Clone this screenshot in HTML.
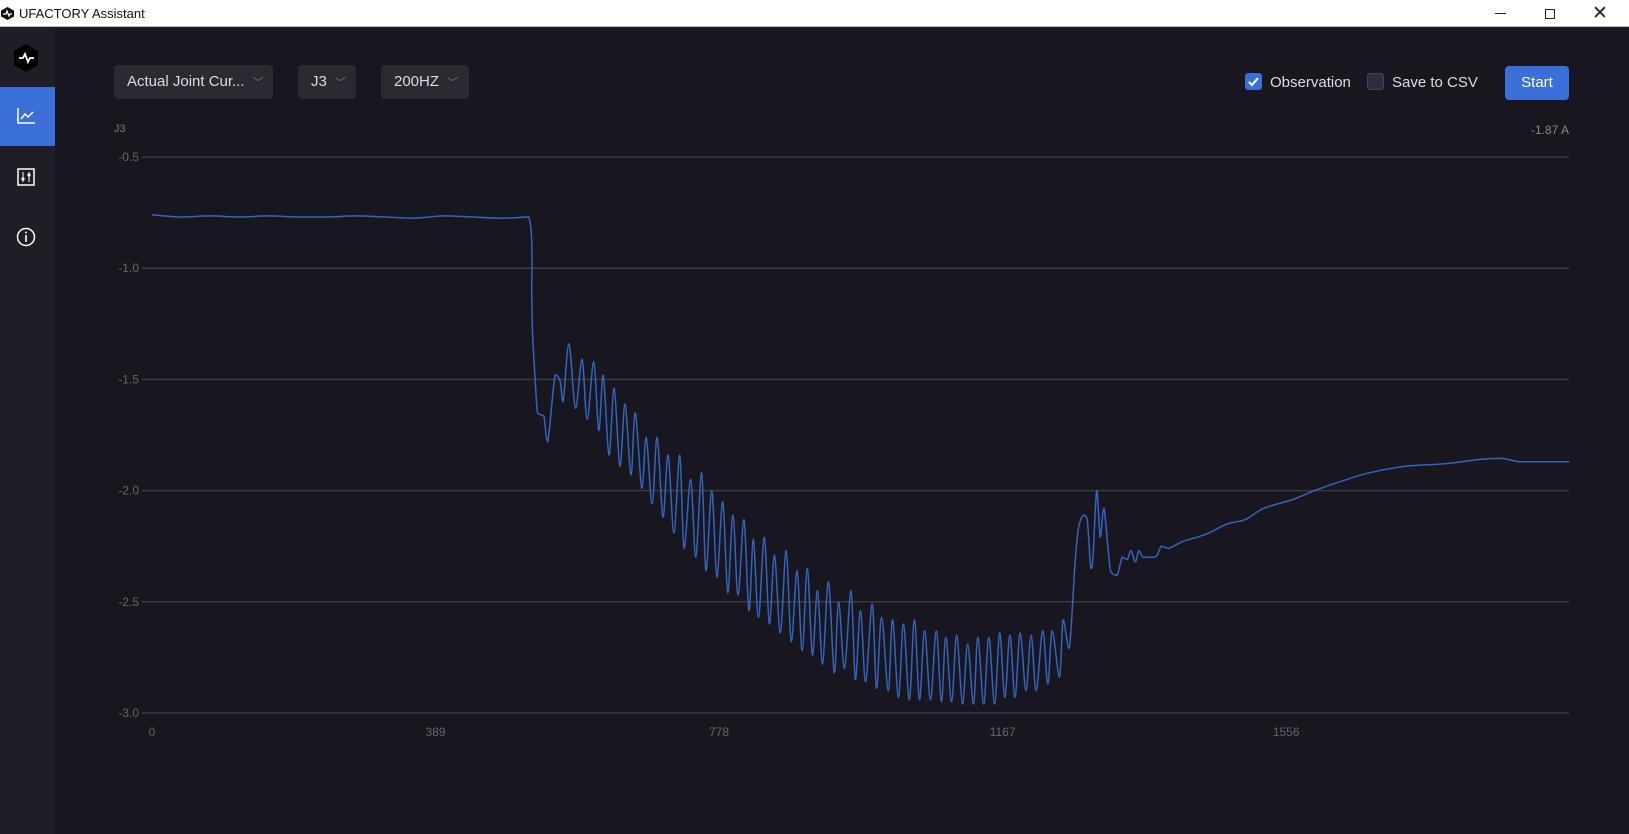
<!DOCTYPE html>
<html><head><meta charset="utf-8"><style>
*{margin:0;padding:0;box-sizing:border-box}
body{width:1629px;height:834px;overflow:hidden;background:#18171f;font-family:"Liberation Sans",sans-serif;position:relative}
.abs{position:absolute}
.titlebar{left:0;top:0;width:1629px;height:27px;background:#fff;border-bottom:1px solid #bbb}
.side{left:0;top:27px;width:55px;height:807px;background:#1f1e27}
.dd{top:65px;height:34px;background:#2a2a33;border-radius:4px;color:#ddd;font-size:15px;line-height:34px;padding-left:13px}
.dd span{color:#777;font-size:11px;margin-left:8px}
.lbl{color:#ddd;font-size:15px}
</style></head><body>
<div class="abs titlebar">
 <svg class="abs" style="left:1px;top:7px" width="13" height="13"><polygon points="6.5,0 13,3.5 13,9.5 6.5,13 0,9.5 0,3.5" fill="#111"/><polyline points="2,7 5,7 6,4 8,9 9,7 11,7" fill="none" stroke="#fff" stroke-width="1.2"/></svg>
 <div class="abs" style="left:19px;top:6px;font-size:13px;color:#111">UFACTORY Assistant</div>
 <div class="abs" style="left:1495px;top:13px;width:11px;height:1px;background:#222"></div>
 <div class="abs" style="left:1545px;top:9px;width:10px;height:10px;border:1px solid #222"></div>
 <div class="abs" style="left:1592px;top:2px;font-size:19px;color:#222">✕</div>
</div>
<div class="abs side"></div>
<svg class="abs" style="left:13px;top:44px" width="26" height="28"><polygon points="13,0 25,7 25,21 13,28 1,21 1,7" fill="#000"/><polyline points="6,14 10,14 12,10 15,18 17,14 21,14" fill="none" stroke="#fff" stroke-width="1.8"/></svg>
<div class="abs" style="left:0;top:87px;width:55px;height:59px;background:#3a6fd8">
 <svg class="abs" style="left:17px;top:21px" width="18" height="16"><polyline points="1,0 1,15 18,15" fill="none" stroke="#fff" stroke-width="1.5"/><polyline points="4,11 8,6 11,9 16,4" fill="none" stroke="#fff" stroke-width="1.5"/></svg>
</div>
<svg class="abs" style="left:17px;top:168px" width="18" height="18"><rect x="1" y="1" width="16" height="16" fill="none" stroke="#fff" stroke-width="1.5"/><line x1="6" y1="4" x2="6" y2="14" stroke="#fff"/><line x1="12" y1="4" x2="12" y2="14" stroke="#fff"/><circle cx="6" cy="11" r="1.6" fill="#fff"/><circle cx="12" cy="7" r="1.6" fill="#fff"/></svg>
<svg class="abs" style="left:16px;top:227px" width="20" height="20"><circle cx="10" cy="10" r="8.5" fill="none" stroke="#fff" stroke-width="1.5"/><line x1="10" y1="8" x2="10" y2="15" stroke="#fff" stroke-width="1.6"/><circle cx="10" cy="5.5" r="1" fill="#fff"/></svg>

<div class="abs dd" style="left:114px;width:159px">Actual Joint Cur...<span>﹀</span></div>
<div class="abs dd" style="left:298px;width:58px">J3<span>﹀</span></div>
<div class="abs dd" style="left:381px;width:88px">200HZ<span>﹀</span></div>

<div class="abs" style="left:1245px;top:73px;width:17px;height:17px;background:#3a6fd8;border-radius:3px"><svg width="17" height="17"><polyline points="4,9 7,12 13,5" fill="none" stroke="#fff" stroke-width="2"/></svg></div>
<div class="abs lbl" style="left:1270px;top:74px">Observation</div>
<div class="abs" style="left:1367px;top:73px;width:17px;height:17px;background:#2e2d38;border:1px solid #2f4a7a;border-radius:3px"></div>
<div class="abs lbl" style="left:1392px;top:74px">Save to CSV</div>
<div class="abs" style="left:1505px;top:66px;width:64px;height:34px;background:#3a6fd8;border-radius:4px;color:#fff;font-size:15px;line-height:34px;text-align:center">Start</div>

<div class="abs" style="left:114px;top:123px;font-size:11px;color:#777">J3</div>
<div class="abs" style="left:1480px;top:123px;width:89px;text-align:right;font-size:12px;color:#888">-1.87 A</div>

<svg id="chart" class="abs" style="left:0;top:0" width="1629" height="834"></svg>
<script>
const yTicks=[-0.5,-1.0,-1.5,-2.0,-2.5,-3.0];
const xTicks=[0,389,778,1167,1556];
const xs=[0,40,80,120,160,200,240,280,320,360,400,440,480,517,521,522,526,529,535,538,543,553,560,564,572,581,590,597,606,613,619,627,634,642,649,657,663,672,678,686,693,701,708,716,724,730,739,746,754,760,768,775,783,790,797,804,812,819,825,832,840,847,854,862,870,877,885,892,899,906,913,920,928,936,942,950,959,965,972,979,988,994,1001,1010,1016,1024,1031,1039,1046,1053,1060,1068,1076,1083,1089,1097,1104,1112,1119,1127,1133,1141,1148,1156,1163,1170,1177,1184,1191,1199,1206,1213,1222,1229,1235,1245,1250,1258,1263,1266,1271,1278,1283,1288,1291,1296,1301,1306,1315,1324,1331,1338,1343,1349,1354,1360,1373,1379,1385,1395,1413,1433,1450,1475,1500,1525,1565,1595,1630,1670,1721,1771,1821,1851,1876,1911,1944];
const ys=[-0.76,-0.77,-0.765,-0.77,-0.765,-0.77,-0.77,-0.765,-0.77,-0.775,-0.765,-0.77,-0.775,-0.77,-1.143,-1.29,-1.52,-1.65,-1.66,-1.67,-1.78,-1.48,-1.51,-1.60,-1.34,-1.63,-1.41,-1.68,-1.42,-1.73,-1.48,-1.84,-1.54,-1.89,-1.61,-1.93,-1.65,-1.99,-1.76,-2.06,-1.76,-2.12,-1.84,-2.19,-1.84,-2.26,-1.95,-2.30,-1.92,-2.36,-2.00,-2.39,-2.05,-2.46,-2.11,-2.47,-2.13,-2.54,-2.22,-2.57,-2.21,-2.60,-2.29,-2.64,-2.27,-2.68,-2.36,-2.72,-2.35,-2.74,-2.45,-2.78,-2.41,-2.82,-2.50,-2.80,-2.45,-2.85,-2.54,-2.86,-2.51,-2.89,-2.57,-2.90,-2.58,-2.93,-2.60,-2.94,-2.58,-2.94,-2.63,-2.94,-2.63,-2.95,-2.66,-2.95,-2.65,-2.96,-2.69,-2.96,-2.66,-2.96,-2.66,-2.96,-2.64,-2.93,-2.65,-2.93,-2.64,-2.90,-2.65,-2.90,-2.63,-2.87,-2.63,-2.84,-2.58,-2.71,-2.51,-2.34,-2.17,-2.11,-2.13,-2.35,-2.30,-2.00,-2.21,-2.08,-2.36,-2.38,-2.30,-2.31,-2.27,-2.32,-2.27,-2.30,-2.30,-2.29,-2.25,-2.26,-2.23,-2.21,-2.19,-2.15,-2.13,-2.08,-2.04,-2.00,-1.96,-1.92,-1.89,-1.88,-1.86,-1.855,-1.87,-1.87,-1.87];
const svg=document.getElementById('chart');
const NS='http://www.w3.org/2000/svg';
const X0=152,X1=1569,XMAX=1944,Y0=157,Y1=713;
function xp(v){return X0+(v/XMAX)*(X1-X0);}
function yp(v){return Y0+(-0.5-v)/2.5*(Y1-Y0);}
yTicks.forEach(t=>{
 const l=document.createElementNS(NS,'line');
 
 
 l.setAttribute('x1',142);l.setAttribute('x2',X1);l.setAttribute('y1',yp(t));l.setAttribute('y2',yp(t));
 l.setAttribute('stroke','#3a3a42');l.setAttribute('stroke-width','1.5');svg.appendChild(l);
 const tx=document.createElementNS(NS,'text');
 
 
 tx.setAttribute('x',139);tx.setAttribute('y',yp(t)+4);tx.setAttribute('text-anchor','end');
 tx.setAttribute('fill','#666');tx.setAttribute('font-size','12');tx.setAttribute('font-family','Liberation Sans');
 tx.textContent=t.toFixed(1);svg.appendChild(tx);
});
xTicks.forEach(t=>{
 const tx=document.createElementNS(NS,'text');
 
 
 tx.setAttribute('x',xp(t));tx.setAttribute('y',736);tx.setAttribute('text-anchor','middle');
 tx.setAttribute('fill','#666');tx.setAttribute('font-size','12');tx.setAttribute('font-family','Liberation Sans');
 tx.textContent=t;svg.appendChild(tx);
});
const pts=xs.map((x,i)=>[xp(x),yp(ys[i])]);
function clamp(v,a,b){const lo=Math.min(a,b),hi=Math.max(a,b);return Math.max(lo,Math.min(hi,v));}
let d='M'+pts[0][0].toFixed(1)+','+pts[0][1].toFixed(1);
for(let i=0;i<pts.length-1;i++){
 const p0=pts[Math.max(0,i-1)],p1=pts[i],p2=pts[i+1],p3=pts[Math.min(pts.length-1,i+2)];
 const c1x=p1[0]+(p2[0]-p0[0])/6,c1y=clamp(p1[1]+(p2[1]-p0[1])/6,p1[1],p2[1]);
 const c2x=p2[0]-(p3[0]-p1[0])/6,c2y=clamp(p2[1]-(p3[1]-p1[1])/6,p1[1],p2[1]);
 d+=' C'+c1x.toFixed(1)+','+c1y.toFixed(1)+' '+c2x.toFixed(1)+','+c2y.toFixed(1)+' '+p2[0].toFixed(1)+','+p2[1].toFixed(1);
}
const p=document.createElementNS(NS,'path');


p.setAttribute('d',d);
p.setAttribute('fill','none');p.setAttribute('stroke','#3563c0');p.setAttribute('stroke-width','1.5');p.setAttribute('stroke-linejoin','round');
svg.appendChild(p);
</script>
</body></html>
